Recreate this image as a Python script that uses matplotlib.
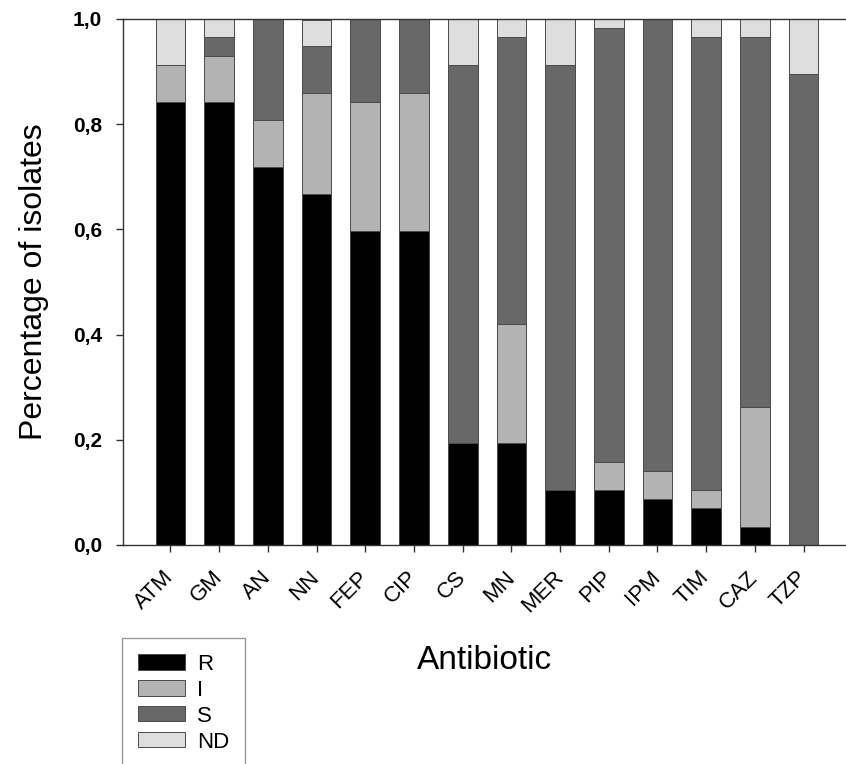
import numpy as np
import matplotlib
matplotlib.use("Agg")
from matplotlib import pyplot as plt
from matplotlib.patches import Patch
from matplotlib.transforms import ScaledTranslation

plt.rcParams["font.family"] = ["Liberation Sans", "DejaVu Sans"]

# fraction of isolates per antibiotic (n = 57)
antibiotics = ["ATM", "GM", "AN", "NN", "FEP", "CIP", "CS", "MN", "MER", "PIP", "IPM", "TIM", "CAZ", "TZP"]
resistant = [0.842, 0.842, 0.719, 0.667, 0.596, 0.596, 0.193, 0.193, 0.105, 0.105, 0.088, 0.070, 0.035, 0.0]
intermediate = [0.070, 0.088, 0.088, 0.193, 0.246, 0.263, 0.0, 0.228, 0.0, 0.053, 0.053, 0.035, 0.228, 0.0]
susceptible = [0.0, 0.035, 0.193, 0.088, 0.158, 0.141, 0.719, 0.544, 0.807, 0.825, 0.859, 0.860, 0.702, 0.895]
not_done = [0.088, 0.035, 0.0, 0.050, 0.0, 0.0, 0.088, 0.035, 0.088, 0.017, 0.0, 0.035, 0.035, 0.105]

series = [("R", resistant, "#000000"),
          ("I", intermediate, "#b3b3b3"),
          ("S", susceptible, "#686868"),
          ("ND", not_done, "#dedede")]

fig = plt.figure(figsize=(8.46, 7.64), dpi=100)
ax = fig.add_axes([0.145, 0.2867, 0.855, 0.6885])

x = np.arange(len(antibiotics))
bottom = np.zeros(len(antibiotics))
for name, vals, color in series:
    vals = np.array(vals)
    ax.bar(x, vals, width=0.61, bottom=bottom, color=color,
           edgecolor="#4a4a4a", linewidth=0.7)
    bottom += vals

ax.set_xlim(-0.98, 13.87)
ax.set_ylim(0, 1.0)
ax.set_yticks([0, 0.2, 0.4, 0.6, 0.8, 1.0])
ax.set_yticklabels(["0,0", "0,2", "0,4", "0,6", "0,8", "1,0"], fontsize=15, fontweight="bold")
ax.set_xticks(x)
ax.set_xticklabels(antibiotics, fontsize=16, rotation=45, ha="right",
                   va="center", rotation_mode="anchor")
# nudge rotated labels a little to the right, like the original
shift = ScaledTranslation(4 / 100, -2 / 100, fig.dpi_scale_trans)
for lbl in ax.get_xticklabels():
    lbl.set_transform(lbl.get_transform() + shift)

ax.spines["right"].set_visible(False)
for sp in ["left", "bottom", "top"]:
    ax.spines[sp].set_color("#333333")
    ax.spines[sp].set_linewidth(1.0)
ax.tick_params(axis="y", direction="out", length=5, width=1, color="#333333", pad=10)
ax.tick_params(axis="x", direction="out", length=5, width=1, color="#333333", pad=16)

ax.set_ylabel("Percentage of isolates", fontsize=23)
ax.yaxis.set_label_coords(-0.123, 0.5)
ax.yaxis.label.set_va("center")
ax.set_xlabel("Antibiotic", fontsize=24)
ax.xaxis.set_label_coords(0.5, -0.219)
ax.xaxis.label.set_va("center")

handles = [Patch(facecolor=c, edgecolor="#4a4a4a", linewidth=0.7, label=n) for n, v, c in series]
leg = fig.legend(handles=handles, loc="upper left",
                 bbox_to_anchor=(122.3 / 846, 1 - 638.3 / 764),
                 borderaxespad=0, fontsize=16, frameon=True, fancybox=False,
                 handlelength=2.1, handleheight=0.68, handletextpad=0.57,
                 labelspacing=0.22, borderpad=0.7)
leg.get_frame().set_edgecolor("#808080")
leg.get_frame().set_linewidth(1.0)

plt.savefig("out.png", dpi=100)
